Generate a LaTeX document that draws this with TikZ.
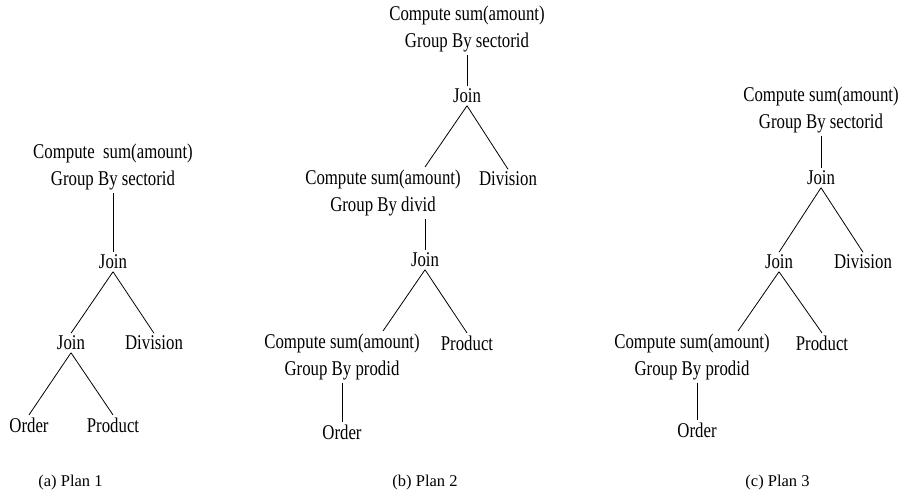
\documentclass[tikz,border=0pt]{standalone}
\usepackage{fontspec}
\setmainfont{Liberation Serif}[FakeStretch=0.8]
\newfontfamily\capfont{Liberation Serif}
\usetikzlibrary{calc}
\begin{document}
\begin{tikzpicture}[x=1pt,y=-1pt,
  lbl/.style={inner sep=2.5pt,font=\fontsize{21}{27.5}\selectfont,align=center},
  captext/.style={inner sep=0pt,font=\capfont\fontsize{16.5}{19}\selectfont},
  conn/.style={line width=0.8pt}]
\useasboundingbox (0,0) rectangle (899,495);
% Plan 1
\node[lbl] (p1c) at (113,167) {Compute\ \ sum(amount)\\Group By sectorid};
\node[lbl] (p1j1) at (113,262) {Join};
\node[lbl] (p1j2) at (71,343) {Join};
\node[lbl] (p1d) at (154,343) {Division};
\node[lbl] (p1o) at (29,425) {Order};
\node[lbl] (p1p) at (113,425) {Product};
\draw[conn] (p1c.south -| p1j1) -- (p1j1.north);
\draw[conn] (p1j1.south) -- (p1j2.north);
\draw[conn] (p1j1.south) -- (p1d.north);
\draw[conn] (p1j2.south) -- (p1o.north);
\draw[conn] (p1j2.south) -- (p1p.north);
% Plan 2
\node[lbl] (p2c1) at (467,29) {Compute sum(amount)\\Group By sectorid};
\node[lbl] (p2j1) at (467,96) {Join};
\node[lbl] (p2c2) at (383,193) {Compute sum(amount)\\Group By divid};
\node[lbl] (p2d) at (508,179) {Division};
\node[lbl] (p2j2) at (425,260) {Join};
\node[lbl] (p2c3) at (342,357) {Compute sum(amount)\\Group By prodid};
\node[lbl] (p2p) at (467,343) {Product};
\node[lbl] (p2o) at (342,432) {Order};
\draw[conn] (p2c1.south -| p2j1) -- (p2j1.north);
\draw[conn] (p2j1.south) -- (p2c2.north -| p2j2);
\draw[conn] (p2j1.south) -- (p2d.north);
\draw[conn] (p2c2.south -| p2j2) -- (p2j2.north);
\draw[conn] (p2j2.south) -- ($(p2c3.north)+(41,0)$);
\draw[conn] (p2j2.south) -- (p2p.north);
\draw[conn] (p2c3.south -| p2o) -- (p2o.north);
% Plan 3
\node[lbl] (p3c1) at (821,110) {Compute sum(amount)\\Group By sectorid};
\node[lbl] (p3j1) at (821,178) {Join};
\node[lbl] (p3j2) at (779,262) {Join};
\node[lbl] (p3d) at (863,262) {Division};
\node[lbl] (p3c2) at (692,357) {Compute sum(amount)\\Group By prodid};
\node[lbl] (p3p) at (822,343) {Product};
\node[lbl] (p3o) at (697,430) {Order};
\draw[conn] (p3c1.south -| p3j1) -- (p3j1.north);
\draw[conn] (p3j1.south) -- (p3j2.north);
\draw[conn] (p3j1.south) -- (p3d.north);
\draw[conn] (p3j2.south) -- ($(p3c2.north)+(46,0)$);
\draw[conn] (p3j2.south) -- (p3p.north);
\draw[conn] (p3c2.south -| p3o) -- (p3o.north);
% captions
\node[captext] (ca) at (70.5,483) {(a) Plan 1};
\node[captext] (cb) at (425,483) {(b) Plan 2};
\node[captext] (cc) at (777.5,483) {(c) Plan 3};
\end{tikzpicture}
\end{document}
